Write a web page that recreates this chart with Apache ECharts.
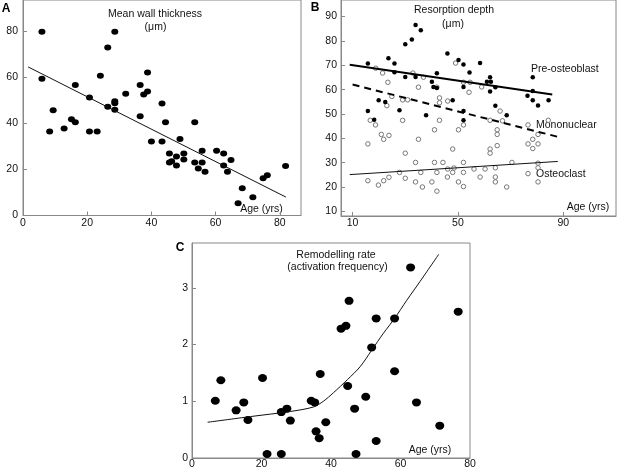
<!DOCTYPE html>
<html>
<head>
<meta charset="utf-8">
<script src="https://cdn.jsdelivr.net/npm/echarts@6/dist/echarts.min.js"></script>
<style>
  html, body { margin: 0; padding: 0; background: #fff; }
  #chart { width: 618px; height: 470px; }
</style>
</head>
<body>
<div id="chart"></div>
<script>
// A: mean wall thickness vs age
const ageA = [5.9, 5.9, 8.3, 9.4, 12.8, 15.1, 16.3, 16.3, 20.7, 20.7, 23.1, 24.1, 26.4, 26.4, 28.6, 28.6, 28.6, 28.6, 32.0, 36.5, 36.5, 37.6, 38.8, 38.8, 40.0, 43.3, 44.4, 43.3, 45.6, 45.6, 46.3, 47.8, 47.8, 48.9, 50.1, 50.1, 53.5, 53.5, 54.6, 55.8, 55.8, 56.7, 60.3, 62.5, 62.5, 63.7, 64.8, 67.0, 68.3, 71.6, 74.8, 76.1, 81.8]
const thickA = [79.9, 59.5, 36.5, 45.8, 37.8, 41.8, 40.5, 56.7, 51.3, 36.5, 36.5, 60.8, 73.1, 47.3, 79.9, 49.7, 48.8, 46.0, 52.9, 56.7, 43.1, 52.6, 53.9, 62.2, 32.2, 48.7, 40.5, 32.2, 27.0, 23.0, 23.6, 25.7, 21.7, 33.3, 27.0, 24.4, 40.5, 23.0, 20.4, 28.2, 23.0, 19.0, 28.2, 27.0, 21.7, 19.0, 24.1, 5.3, 11.9, 7.9, 16.2, 17.5, 21.5]
const fitAgeA = [1.6, 81.9]
const fitThickA = [64.6, 8.0]
const ticksA_x = [0, 20, 40, 60, 80]
const ticksA_y = [0, 20, 40, 60, 80]

// B: resorption depth, filled = pre-osteoblast, open = other cells
const preX = [15.8, 15.8, 18.2, 19.9, 22.4, 23.6, 25.9, 25.9, 27.8, 30.0, 30.0, 32.5, 33.9, 33.9, 35.9, 37.9, 40.1, 40.7, 42.0, 42.0, 46.0, 48.0, 50.2, 52.1, 52.1, 52.1, 52.1, 54.4, 58.4, 61.0, 62.2, 62.5, 62.2, 64.2, 64.2, 68.5, 76.4, 78.4, 78.4, 78.4, 80.4, 84.4]
const preY = [70.7, 51.2, 47.6, 55.6, 54.9, 72.9, 70.7, 67.1, 51.5, 78.6, 65.2, 80.6, 86.5, 65.2, 84.4, 49.5, 63.2, 61.1, 66.7, 60.7, 74.8, 55.6, 72.2, 70.3, 61.1, 51.2, 47.4, 67.0, 70.9, 63.2, 65.1, 63.2, 59.2, 61.0, 53.4, 49.5, 57.5, 65.1, 59.4, 55.6, 53.5, 55.6]
const openX = [18.8, 21.4, 23.4, 24.9, 23.0, 29.0, 30.9, 32.9, 35.0, 36.9, 42.0, 43.0, 43.0, 46.1, 49.1, 52.1, 54.2, 54.6, 59.0, 66.0, 66.9, 62.2,
  15.8, 16.7, 18.7, 20.9, 21.8, 23.8, 29.0, 35.0, 30.0, 41.1, 43.0, 50.2, 52.1, 48.0,
  15.8, 19.8, 21.8, 23.8, 27.8, 30.0, 33.9, 33.9, 35.9, 36.5, 40.1, 41.1, 42.0, 44.3, 42.0, 46.0, 46.1, 48.5, 48.0, 50.2, 52.1, 52.1, 52.1, 56.1, 58.4, 60.3, 64.2, 64.2, 64.2, 68.5, 70.5,
  64.9, 64.9, 64.9, 62.2, 62.2, 76.6, 76.6, 78.4, 78.4, 80.4, 80.4, 84.3, 76.6, 80.4, 80.4, 80.4]
const openY = [68.8, 66.8, 63.0, 57.2, 53.4, 55.8, 55.8, 66.8, 61.0, 65.1, 61.0, 56.6, 54.6, 55.3, 70.9, 63.0, 58.9, 63.0, 61.1, 51.2, 47.2, 47.4,
  37.7, 47.4, 45.5, 41.6, 39.6, 41.2, 47.4, 39.6, 33.9, 43.5, 47.4, 43.5, 45.5, 35.6,
  22.6, 20.8, 22.6, 24.0, 26.0, 23.6, 30.1, 22.1, 26.0, 20.0, 22.1, 30.1, 26.0, 30.1, 18.3, 24.1, 27.4, 27.8, 26.0, 22.1, 30.1, 26.0, 20.2, 27.4, 24.1, 27.4, 27.9, 24.1, 22.1, 20.0, 30.1,
  43.5, 41.6, 37.0, 35.6, 33.9, 45.5, 37.7, 39.6, 35.8, 41.6, 37.7, 47.4, 25.5, 29.8, 27.9, 22.1]
const preFitX = [8.9, 85.8]
const preFitY = [70.2, 58.0]
const monoFitX = [10, 88.7]
const monoFitY = [62.1, 40.4]
const ostFitX = [8.9, 87.9]
const ostFitY = [25.1, 30.5]
const ticksB_x = [10, 50, 90]
const ticksB_y = [10, 20, 30, 40, 50, 60, 70, 80, 90]

// C: remodelling rate
const ageC = [6.7, 8.3, 12.7, 14.9, 16.1, 20.3, 21.6, 25.7, 25.7, 27.3, 28.3, 34.3, 35.3, 35.7, 36.6, 36.9, 38.5, 42.9, 44.3, 45.2, 44.8, 46.8, 47.2, 50.0, 51.7, 53.0, 53.0, 58.3, 58.3, 62.9, 64.6, 71.3, 76.6]
const rateC = [1.01, 1.37, 0.84, 0.98, 0.67, 1.41, 0.07, 0.07, 0.81, 0.87, 0.66, 1.01, 0.98, 0.47, 0.35, 1.48, 0.63, 2.28, 2.33, 2.77, 1.27, 0.87, 0.07, 1.08, 1.95, 2.46, 0.30, 2.46, 1.53, 3.36, 0.98, 0.57, 2.58]
const curveAge = [4.5, 16.8, 28.3, 35.0, 37.8, 40.7, 44.7, 48.4, 51.7, 55.1, 58.3, 61.8, 65.6, 71.0]
const curveRate = [0.63, 0.73, 0.82, 0.90, 1.00, 1.15, 1.38, 1.61, 1.90, 2.20, 2.46, 2.78, 3.11, 3.59]
const ticksC_x = [0, 20, 40, 60, 80]
const ticksC_y = [0, 1, 2, 3]

const FONT = 'Liberation Sans, Arial, sans-serif'
const AXIS = '#888'

// 两个数组拼成 [x, y]
const zip = (xs, ys) => xs.map((x, i) => [x, ys[i]])

function makeAxis(grid, min, max, ticks, margin, showTick) {
  return {
    type: 'value',
    gridIndex: grid,
    min: min,
    max: max,
    axisLine: { show: true, lineStyle: { color: AXIS, width: 1 } },
    axisTick: { show: showTick, inside: true, length: 4, lineStyle: { color: AXIS }, customValues: ticks },
    axisLabel: { color: '#111', fontSize: 10.5, fontFamily: FONT, margin: margin, customValues: ticks },
    splitLine: { show: false }
  }
}

function label(text, x, y, opts) {
  return {
    type: 'text',
    x: x,
    y: y,
    style: Object.assign({
      text: text,
      font: '10.5px ' + FONT,
      fill: '#111',
      textAlign: 'center',
      align: 'center',
      textVerticalAlign: 'middle',
      verticalAlign: 'middle'
    }, opts || {})
  }
}

const myChart = echarts.init(document.querySelector('#chart'))

const option = {
  backgroundColor: '#fff',
  animation: false,
  grid: [
    { left: 23, top: -2, width: 278, height: 217.5, show: true, borderColor: AXIS, borderWidth: 1 },
    { left: 341, top: -2, width: 275, height: 218, show: true, borderColor: AXIS, borderWidth: 1 },
    { left: 192, top: 243, width: 278, height: 215.5, show: true, borderColor: AXIS, borderWidth: 1 }
  ],
  xAxis: [
    makeAxis(0, 0, 86.6, ticksA_x, 2, true),
    makeAxis(1, 5.6, 110, ticksB_x, 2, true),
    makeAxis(2, 0, 80, ticksC_x, 1, false)
  ],
  yAxis: [
    makeAxis(0, 0, 93.7, ticksA_y, 5, true),
    makeAxis(1, 8.1, 96.8, ticksB_y, 4, true),
    makeAxis(2, 0, 3.79, ticksC_y, 4, true)
  ],
  series: [
    {
      type: 'scatter', xAxisIndex: 0, yAxisIndex: 0,
      data: zip(ageA, thickA),
      symbol: 'circle', symbolSize: [7, 6],
      itemStyle: { color: '#000', opacity: 1 }
    },
    {
      type: 'line', xAxisIndex: 0, yAxisIndex: 0,
      data: zip(fitAgeA, fitThickA),
      symbol: 'none', lineStyle: { color: '#111', width: 1 }
    },
    {
      type: 'scatter', xAxisIndex: 1, yAxisIndex: 1,
      data: zip(openX, openY),
      symbol: 'circle', symbolSize: 4.5,
      itemStyle: { color: '#fff', borderColor: '#777', borderWidth: 1, opacity: 1 }
    },
    {
      type: 'scatter', xAxisIndex: 1, yAxisIndex: 1,
      data: zip(preX, preY),
      symbol: 'circle', symbolSize: 4.5,
      itemStyle: { color: '#000', opacity: 1 }
    },
    {
      type: 'line', xAxisIndex: 1, yAxisIndex: 1,
      data: zip(preFitX, preFitY),
      symbol: 'none', lineStyle: { color: '#000', width: 2 }
    },
    {
      type: 'line', xAxisIndex: 1, yAxisIndex: 1,
      data: zip(monoFitX, monoFitY),
      symbol: 'none', lineStyle: { color: '#000', width: 2, type: [7, 5] }
    },
    {
      type: 'line', xAxisIndex: 1, yAxisIndex: 1,
      data: zip(ostFitX, ostFitY),
      symbol: 'none', lineStyle: { color: '#111', width: 1 }
    },
    {
      type: 'scatter', xAxisIndex: 2, yAxisIndex: 2,
      data: zip(ageC, rateC),
      symbol: 'circle', symbolSize: [9, 8],
      itemStyle: { color: '#000', opacity: 1 }
    },
    {
      type: 'line', xAxisIndex: 2, yAxisIndex: 2,
      data: zip(curveAge, curveRate),
      smooth: 0.3,
      symbol: 'none', lineStyle: { color: '#111', width: 1 }
    }
  ],
  graphic: [
    label('A', 6, 9, { font: 'bold 12px ' + FONT, fill: '#000' }),
    label('B', 315, 8, { font: 'bold 12px ' + FONT, fill: '#000' }),
    label('C', 180, 248, { font: 'bold 12px ' + FONT, fill: '#000' }),
    label('Mean wall thickness', 155, 14),
    label('(μm)', 155.5, 27),
    label('Resorption depth', 454, 10),
    label('(μm)', 453, 24),
    label('Remodelling rate', 336, 255.5),
    label('(activation frequency)', 337.5, 267.5),
    label('Age (yrs)', 261.5, 209),
    label('Age (yrs)', 588, 207),
    label('Age (yrs)', 430, 450),
    label('Pre-osteoblast', 531, 69.5, { textAlign: 'left', align: 'left' }),
    label('Mononuclear', 536, 125, { textAlign: 'left', align: 'left' }),
    label('Osteoclast', 536, 174, { textAlign: 'left', align: 'left' })
  ]
}

myChart.setOption(option)
</script>
</body>
</html>
